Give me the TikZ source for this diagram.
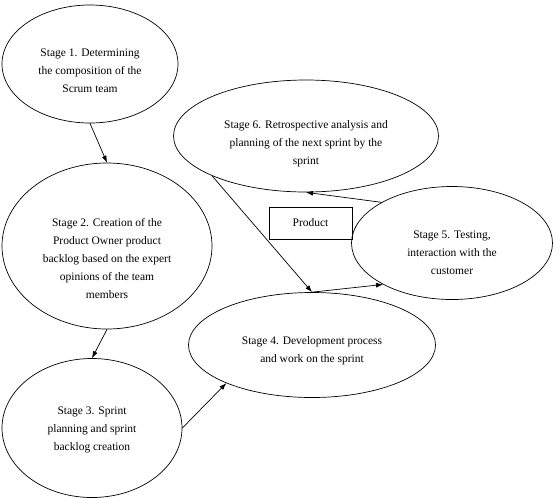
\documentclass[tikz,border=0pt]{standalone}
\usepackage{fontspec}
\setmainfont{Liberation Serif}
\usetikzlibrary{shapes.geometric,arrows.meta}
\begin{document}
\begin{tikzpicture}[x=1pt, y=-1pt, line width=0.7pt,
  stage/.style={draw, ellipse, inner sep=0pt},
  txt/.style={align=center, font=\fontsize{11.5}{18}\selectfont},
  arr/.style={-{Latex[length=7pt,width=5pt]}}]
\useasboundingbox (0,0) rectangle (556,499);
\node[stage, minimum width=176pt, minimum height=118pt] (S_1) at (90,64) {};
\node[txt] (T_1) at (90,71) {Stage 1. Determining\\the composition of the\\Scrum team};
\node[stage, minimum width=210pt, minimum height=166pt] (S_2) at (107,246) {};
\node[txt] (T_2) at (107,258) {Stage 2. Creation of the\\Product Owner product\\backlog based on the expert\\opinions of the team\\members};
\node[stage, minimum width=180pt, minimum height=139pt] (S_3) at (92,428) {};
\node[txt] (T_3) at (92,430) {Stage 3. Sprint\\planning and sprint\\backlog creation};
\node[stage, minimum width=247pt, minimum height=105pt] (S_4) at (312,345) {};
\node[txt] (T_4) at (312,351) {Stage 4. Development process\\and work on the sprint};
\node[stage, minimum width=201pt, minimum height=113pt] (S_5) at (452,243) {};
\node[txt] (T_5) at (452,253) {Stage 5. Testing,\\interaction with the\\customer};
\node[stage, minimum width=265pt, minimum height=112pt] (S_6) at (306,136) {};
\node[txt] (T_6) at (306,144) {Stage 6. Retrospective analysis and\\planning of the next sprint by the\\sprint};
\node[draw, txt, minimum width=83pt, minimum height=32pt, inner sep=0pt] (P) at (310.5,223) {Product};
\draw[arr] (S_1.south) -- (S_2.north);
\draw[arr] (S_2.south) -- (S_3.north);
\draw[arr] (S_3.east) -- (S_4.204);
\draw[arr] (S_6.203) -- (S_4.north);
\draw[arr] (S_4.north) -- (S_5.211);
\draw[arr] (S_5.150) -- (S_6.south);
\end{tikzpicture}
\end{document}
